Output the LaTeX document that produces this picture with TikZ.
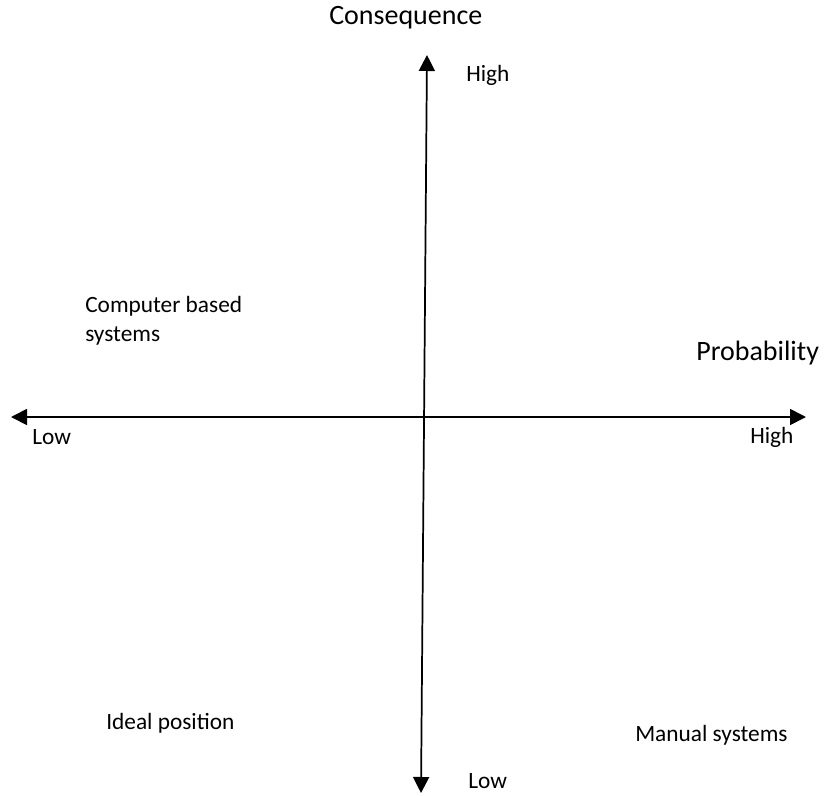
\documentclass[tikz,border=0pt]{standalone}
\usepackage{fontspec}
\setmainfont{Carlito}
\usetikzlibrary{arrows.meta}
\begin{document}
\begin{tikzpicture}[x=0.75pt, y=-0.75pt]

\tikzstyle{axis}=[{Triangle[length=12pt,width=12pt]}-{Triangle[length=12pt,width=12pt]}, line width=1.3pt]
\tikzstyle{title}=[font=\fontsize{21}{25}\selectfont, inner sep=0pt, anchor=west]
\tikzstyle{lbl}=[font=\fontsize{17.5}{21.5}\selectfont, inner sep=0pt, anchor=west, align=left]

\useasboundingbox (0,0) rectangle (825,796);

\coordinate (W) at (11,417);
\coordinate (E) at (806,417);
\coordinate (N) at (427,55);
\coordinate (S) at (421,793);

\draw [axis] (W) -- (E);
\draw [axis] (N) -- (S);

\node (cons) [title] at (329,18) {Consequence};
\node (prob) [title] at (696,353) {Probability};

\node (chigh) [lbl] at (466,75) {High};
\node (clow)  [lbl] at (468,781) {Low};
\node (plow)  [lbl] at (32,437) {Low};
\node (phigh) [lbl] at (750,437) {High};

\node (comp)  [lbl] at (85,321) {Computer based\\systems};
\node (ideal) [lbl] at (106,723) {Ideal position};
\node (manual)[lbl] at (635,735) {Manual systems};

\end{tikzpicture}
\end{document}
